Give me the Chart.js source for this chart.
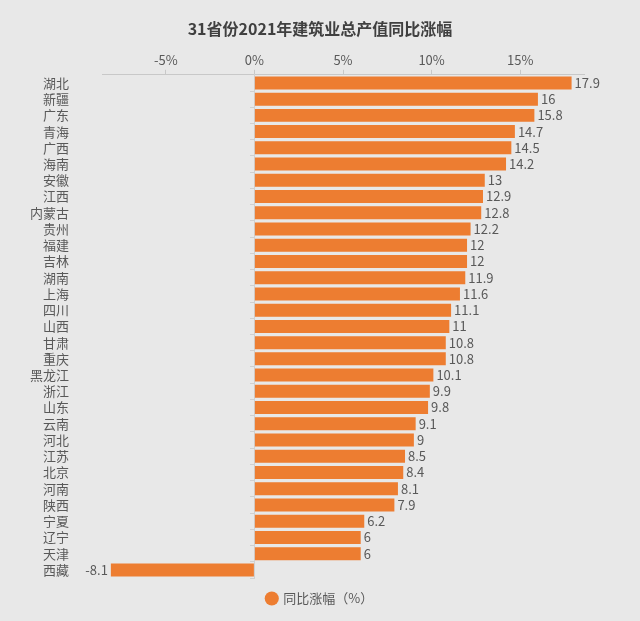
<!DOCTYPE html>
<html>
<head>
<meta charset="utf-8">
<script src="https://cdn.jsdelivr.net/npm/chart.js@4/dist/chart.umd.min.js"></script>
<style>
    html, body { margin: 0; padding: 0; background: #e8e8e8; }
    #chart { display: block; }
</style>
</head>
<body>
<canvas id="chart" width="640" height="621"></canvas>
<script>
// provincias y crecimiento interanual (%)
const provinces = ['湖北', '新疆', '广东', '青海', '广西', '海南', '安徽', '江西', '内蒙古', '贵州',
    '福建', '吉林', '湖南', '上海', '四川', '山西', '甘肃', '重庆', '黑龙江', '浙江',
    '山东', '云南', '河北', '江苏', '北京', '河南', '陕西', '宁夏', '辽宁', '天津', '西藏'];
const growth = [17.9, 16, 15.8, 14.7, 14.5, 14.2, 13, 12.9, 12.8, 12.2,
    12, 12, 11.9, 11.6, 11.1, 11, 10.8, 10.8, 10.1, 9.9,
    9.8, 9.1, 9, 8.5, 8.4, 8.1, 7.9, 6.2, 6, 6, -8.1];
const xTicks = [-5, 0, 5, 10, 15];

const titleText = '31省份2021年建筑业总产值同比涨幅';
const seriesName = '同比涨幅（%）';
const barColor = '#ed7d31';
const fontFamily = '"Noto Sans CJK SC", "Noto Sans", sans-serif';

// etiquetas de valor al final de cada barra
const valueLabels = {
    id: 'valueLabels',
    afterDatasetsDraw(chart) {
        const ctx = chart.ctx;
        const meta = chart.getDatasetMeta(0);
        ctx.save();
        ctx.font = '13px ' + fontFamily;
        ctx.fillStyle = '#595959';
        ctx.textBaseline = 'middle';
        meta.data.forEach((bar, i) => {
            const v = growth[i];
            if (v >= 0) {
                ctx.textAlign = 'left';
                ctx.fillText(String(v), bar.x + 3, bar.y);
            } else {
                ctx.textAlign = 'right';
                ctx.fillText(String(v), bar.x - 3, bar.y);
            }
        });
        ctx.restore();
    }
};

new Chart(document.getElementById('chart'), {
    type: 'bar',
    data: {
        labels: provinces,
        datasets: [{
            label: seriesName,
            data: growth,
            backgroundColor: barColor,
            borderWidth: 0,
            barPercentage: 0.8,
            categoryPercentage: 1,
            yAxisID: 'y'
        }]
    },
    options: {
        indexAxis: 'y',
        responsive: false,
        animation: false,
        layout: { padding: { left: 5, right: 5, top: 8, bottom: 6 } },
        plugins: {
            title: {
                display: true,
                text: titleText,
                color: '#404040',
                font: { family: fontFamily, size: 16, weight: 'bold' },
                padding: { top: 11, bottom: 12 }
            },
            legend: {
                position: 'bottom',
                labels: {
                    usePointStyle: true,
                    pointStyle: 'circle',
                    boxWidth: 10,
                    boxHeight: 10,
                    color: '#595959',
                    font: { family: fontFamily, size: 13 },
                    padding: 14
                }
            },
            tooltip: { enabled: false }
        },
        scales: {
            x: {
                position: 'top',
                min: -8.6,
                max: 18.6,
                afterBuildTicks: (scale) => {
                    scale.ticks = xTicks.map(v => ({ value: v }));
                },
                ticks: {
                    color: '#595959',
                    font: { family: fontFamily, size: 13 },
                    padding: 2,
                    callback: (v) => v + '%'
                },
                grid: {
                    drawOnChartArea: false,
                    tickLength: 5,
                    color: '#c8c8c8'
                },
                border: { color: '#c8c8c8' }
            },
            y: {
                position: 'left',
                ticks: {
                    color: '#595959',
                    font: { family: fontFamily, size: 13 },
                    padding: 25,
                    autoSkip: false
                },
                grid: { display: false },
                border: { display: false }
            },
            // eje en cero con marcas pequeñas entre categorías
            zero: {
                type: 'category',
                axis: 'y',
                position: { x: 0 },
                ticks: { display: false },
                grid: {
                    drawOnChartArea: false,
                    tickLength: 4,
                    offset: true,
                    color: '#d0d0d0'
                },
                border: { color: '#d0d0d0' }
            },
            // espacio a la derecha para las etiquetas de valor
            room: {
                type: 'category',
                axis: 'y',
                position: 'right',
                ticks: { display: false },
                grid: { display: false },
                border: { display: false },
                afterFit: (scale) => { scale.width = 51; }
            }
        }
    },
    plugins: [valueLabels]
});
</script>
</body>
</html>
